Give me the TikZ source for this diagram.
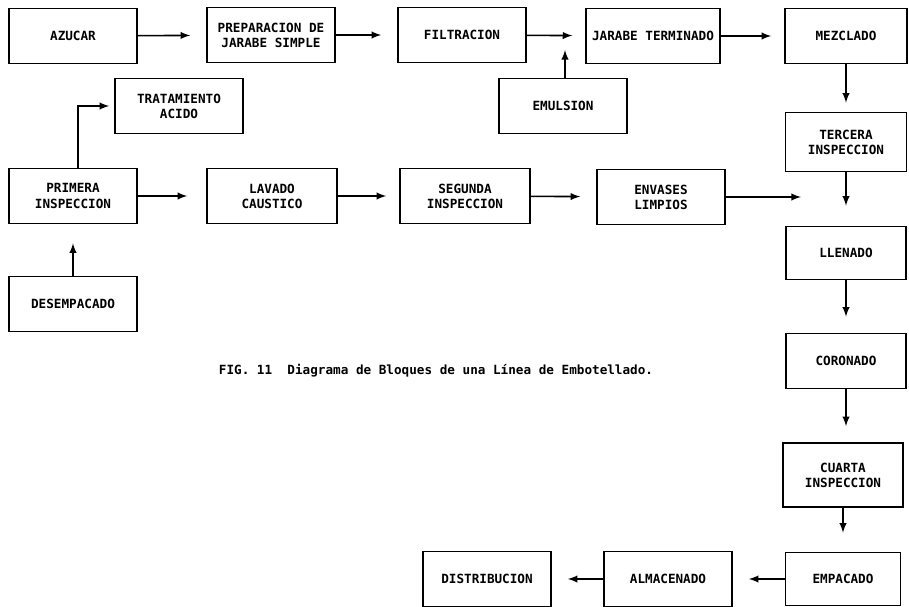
\documentclass[tikz,border=0pt]{standalone}
\usepackage{fontspec}
\setmonofont{DejaVu Sans Mono}
\usepackage{tikz}
\tikzset{block/.style={draw, line width=0.9pt, minimum width=25.6mm, minimum height=11mm, align=center, font=\ttfamily\bfseries\fontsize{7.2}{8.6}\selectfont}}
\tikzset{arrow/.style={->, >=latex, line width=0.9pt, shorten >=3.2mm}}
\tikzset{caption/.style={font=\ttfamily\bfseries\fontsize{7.2}{8.6}\selectfont}}

\begin{document}
\begin{tikzpicture}[x=0.2mm, y=-0.2mm]
      \useasboundingbox (0, 0) rectangle (909, 607);

      \node[block] (azucar) at (73, 36) {AZUCAR};
      \node[block] (prep) at (271, 35) {PREPARACION DE\\JARABE SIMPLE};
      \node[block] (filt) at (462, 35) {FILTRACION};
      \node[block] (jarabe) at (653, 36) {JARABE TERMINADO};
      \node[block, minimum width=24.4mm] (mezclado) at (846, 36) {MEZCLADO};
      \node[block] (emulsion) at (563, 106) {EMULSION};
      \node[block] (trat) at (179, 106) {TRATAMIENTO\\ACIDO};

      \node[block] (primera) at (73, 196) {PRIMERA\\INSPECCION};
      \node[block, minimum width=26mm] (lavado) at (272, 196) {LAVADO\\CAUSTICO};
      \node[block, minimum width=26mm] (segunda) at (465, 196) {SEGUNDA\\INSPECCION};
      \node[block] (envases) at (661, 197) {ENVASES\\LIMPIOS};
      \node[block] (desemp) at (73, 304) {DESEMPACADO};

      \node[block, minimum width=24.2mm, minimum height=11.8mm] (tercera) at (846, 142) {TERCERA\\INSPECCION};
      \node[block, minimum width=24mm, minimum height=10.6mm] (llenado) at (846, 253) {LLENADO};
      \node[block, minimum width=24mm] (coronado) at (846, 361) {CORONADO};
      \node[block, minimum width=24mm, minimum height=12.8mm] (cuarta) at (843, 475) {CUARTA\\INSPECCION};
      \node[block, minimum width=23mm, minimum height=10.6mm] (empacado) at (843, 579) {EMPACADO};
      \node[block] (almacen) at (668, 579) {ALMACENADO};
      \node[block] (distrib) at (487, 579) {DISTRIBUCION};

      \node[caption] (fig) at (436, 371) {FIG. 11\ \ Diagrama de Bloques de una Línea de Embotellado.};

      \coordinate (mix) at (565, 36);
      \coordinate (union) at (envases -| tercera);
      \coordinate (entrada) at (coronado.south |- cuarta.north);

      \draw[arrow] (azucar) -- (prep);
      \draw[arrow] (prep) -- (filt);
      \draw[arrow, shorten >=2.6mm] (filt) -- (jarabe);
      \draw[arrow, shorten >=2.6mm] (jarabe) -- (mezclado);
      \draw[arrow, shorten >=2.8mm] (emulsion.north -| mix) -- (mix);
      \draw[arrow, shorten >=1.8mm] (mezclado) -- (tercera);
      \draw[arrow, shorten >=4mm] (tercera) -- (llenado);
      \draw[arrow] (llenado) -- (coronado);
      \draw[arrow] (coronado) -- (entrada);
      \draw[arrow, shorten >=3.8mm] (cuarta) -- (empacado);
      \draw[arrow] (empacado) -- (almacen);
      \draw[arrow] (almacen) -- (distrib);

      \draw[arrow, shorten >=3.8mm] (primera) -- (lavado);
      \draw[arrow, shorten >=2.6mm] (lavado) -- (segunda);
      \draw[arrow] (segunda) -- (envases);
      \draw[arrow, shorten >=9mm] (envases) -- (union);
      \draw[arrow, shorten >=3.8mm] (desemp) -- (primera);
      \draw[arrow, shorten >=1mm] ([xshift=1mm]primera.north) |- (trat);
    \end{tikzpicture}
\end{document}
